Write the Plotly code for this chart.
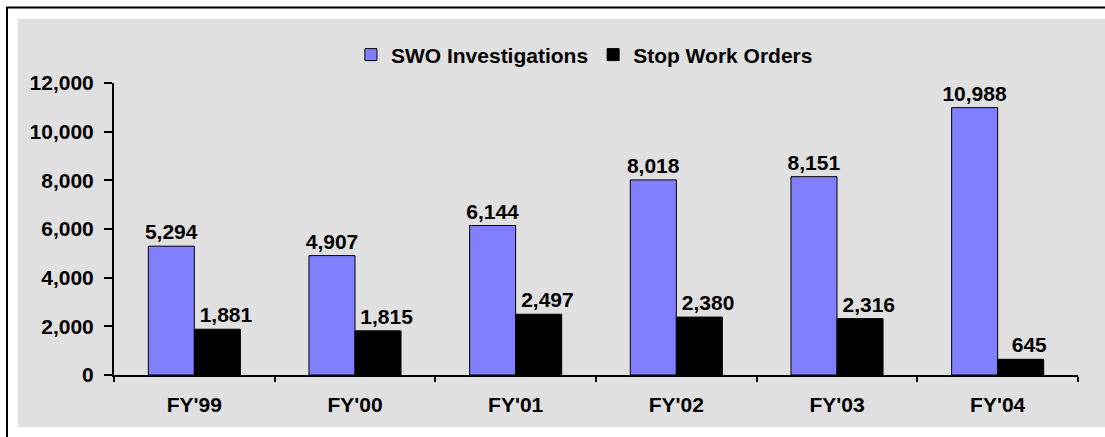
import plotly.graph_objects as go

categories = ["FY'99", "FY'00", "FY'01", "FY'02", "FY'03", "FY'04"]
swo_investigations = [5294, 4907, 6144, 8018, 8151, 10988]
stop_work_orders = [1881, 1815, 2497, 2380, 2316, 645]
y_ticks = [0, 2000, 4000, 6000, 8000, 10000, 12000]

FONT = dict(family="Arial, 'Liberation Sans', sans-serif", size=21, color="black", weight="bold")
boundaries = [i - 0.5 for i in range(len(categories) + 1)]

fig = go.Figure()
fig.add_bar(name="SWO Investigations", x=categories, y=swo_investigations,
            marker=dict(color="#8080FF", line=dict(color="black", width=1)),
            texttemplate="%{y:,}", textposition="outside", textfont=FONT,
            constraintext="none", cliponaxis=False)
fig.add_bar(name="Stop Work Orders", x=categories, y=stop_work_orders,
            marker=dict(color="black", line=dict(color="black", width=1)),
            texttemplate="\u00a0\u00a0\u00a0%{y:,}", textposition="outside", textfont=FONT,
            constraintext="none", cliponaxis=False)

fig.update_layout(
    width=1105, height=437, autosize=False,
    margin=dict(l=114, r=27, t=83, b=62, pad=0),
    paper_bgcolor="white", plot_bgcolor="rgba(0,0,0,0)",
    font=FONT,
    barmode="group", bargap=0.427, bargroupgap=0,
    showlegend=True,
    legend=dict(orientation="h", x=0.488, y=1.096, xanchor="center", yanchor="middle",
                bgcolor="rgba(0,0,0,0)", font=FONT, traceorder="normal"),
    xaxis=dict(type="category", range=[-0.5, len(categories) - 0.5],
               showline=True, linecolor="black", linewidth=2,
               ticks="outside", ticklen=5, tickwidth=2, tickcolor="black",
               tickson="boundaries", showgrid=False, zeroline=False,
               ticklabelstandoff=10, tickfont=FONT),
    xaxis2=dict(overlaying="x", anchor="y", range=[-0.5, len(categories) - 0.5],
                tickvals=boundaries, ticks="inside", ticklen=9, tickwidth=2,
                tickcolor="black", showticklabels=False, showline=False,
                showgrid=False, zeroline=False),
    yaxis=dict(range=[0, 12000], tickvals=y_ticks, tickformat=",",
               showline=True, linecolor="black", linewidth=2,
               ticks="outside", ticklen=8, tickwidth=2, tickcolor="black",
               showgrid=False, zeroline=False, ticklabelstandoff=6, tickfont=FONT),
    shapes=[
        dict(type="rect", xref="paper", yref="paper", layer="below",
             x0=-0.0996, x1=1.04, y0=-0.178, y1=1.219,
             fillcolor="#E0E0E0", line=dict(width=0)),
        dict(type="rect", xref="paper", yref="paper", layer="below",
             x0=-0.111, x1=1.06, y0=-0.25, y1=1.2586,
             fillcolor="rgba(0,0,0,0)", line=dict(color="black", width=2)),
    ],
)

fig.write_html(
    "out.html", config={"displayModeBar": False},
    post_script=("document.documentElement.style.overflow='hidden';"
                 "document.body.style.overflow='hidden';"
                 "document.body.style.margin='0';"),
)
